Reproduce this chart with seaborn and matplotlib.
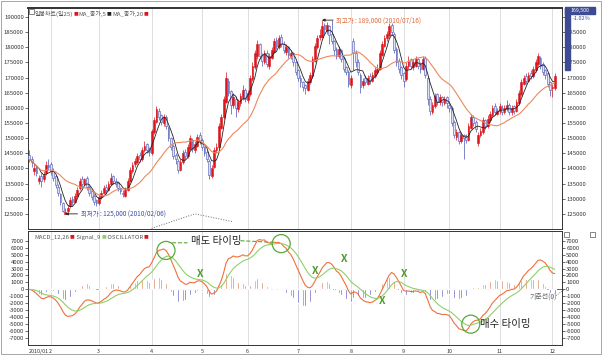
import numpy as np
import pandas as pd
import matplotlib
matplotlib.use("Agg")
import matplotlib.pyplot as plt
import seaborn as sns
from matplotlib.patches import Ellipse, Rectangle
from matplotlib.ticker import FuncFormatter

# daily prices, thousands of won (2010/01 ~ 2010/12)
close_k = [143, 142, 140, 138.5, 137, 136, 138, 141, 140.5, 139,
           137, 134.5, 132, 129, 126, 125.5, 127, 129.5, 129, 131,
           133, 136, 135, 136.5, 134, 132, 130.5, 129, 128.5, 130.5,
           132, 133.5, 133, 135, 137, 136, 135, 133.5, 132.5, 131.5,
           133, 136, 139.5, 141, 142.5, 144, 143, 146, 147.5, 146,
           145.5, 152.5, 156, 159.5, 157, 155.5, 157, 154, 150, 147,
           144, 143, 139.5, 142, 145, 144, 147, 150, 146.5, 148,
           150.5, 149, 147, 145, 143, 138, 140, 146, 147, 154,
           157, 163, 170, 165, 161, 163.5, 160, 162, 164, 166,
           163, 165, 170, 174, 178, 181, 177, 175.5, 178, 174.5,
           177, 179, 182, 180.5, 183, 181, 179, 180, 177.5, 178,
           175, 172, 170, 168.5, 167, 166.5, 169, 171, 176, 180.5,
           183, 184, 187, 186, 187.5, 184, 182, 179, 177, 179.5,
           176, 173, 172, 168, 170, 178, 175, 172, 167, 169,
           168.5, 170, 169, 171, 172.5, 173, 178, 181, 183, 184.5,
           187, 185, 179, 175, 173, 171, 169, 174, 175.5, 174,
           175, 176, 174, 173, 176, 171, 163, 159, 161, 164,
           162, 163.5, 162, 163, 161.5, 160, 155, 151, 152, 149,
           151, 150, 149.5, 154, 157, 155, 153, 151, 152.5, 156,
           154, 156.5, 158, 160, 158.5, 159, 160.5, 158.5, 160, 161,
           158.5, 160, 159, 162, 165, 168.5, 170, 169, 171, 170.5,
           173, 175, 177, 174, 172, 171, 168, 166, 167, 170.5]
open_k = [144.5, 143, 139, 140.5, 136, 137.5, 136.5, 138.5, 141, 141.5,
          139, 137.5, 134, 131.5, 128.5, 125, 126, 127.5, 130, 129,
          131, 133.5, 136.5, 135, 137, 134, 132.5, 131, 129.5, 128.5,
          130.5, 132, 134, 133, 135, 137.5, 136, 135.5, 133.5, 132,
          131, 133, 136, 139, 141.5, 142, 144.5, 143, 146, 148,
          146.5, 145, 152, 155.5, 159, 157.5, 155, 157, 153.5, 150,
          147.5, 144.5, 142.5, 139.5, 142, 145.5, 144, 146.5, 149.5, 146,
          147.5, 151, 149.5, 147, 145.5, 142.5, 137.5, 140.5, 146, 147,
          153.5, 157, 162, 169, 165.5, 161, 163, 159.5, 161.5, 163.5,
          166, 162.5, 164.5, 169.5, 173.5, 177, 181, 177.5, 175, 178,
          174, 176.5, 178.5, 182.5, 180, 183.5, 181, 178.5, 180, 177,
          178, 175, 172.5, 170, 168.5, 167.5, 166, 168.5, 170.5, 175.5,
          180, 183.5, 183.5, 187.5, 185.5, 187, 184.5, 182, 179.5, 177,
          179, 176.5, 173.5, 172, 167.5, 182, 178, 175, 171, 167.5,
          170, 168, 170.5, 169, 170.5, 172, 173, 177.5, 180.5, 183,
          184, 187.5, 184.5, 179.5, 175.5, 173.5, 171.5, 169.5, 174, 176,
          173.5, 174, 176, 174.5, 173, 176.5, 170, 163, 158.5, 160.5,
          164.5, 162, 163.5, 161.5, 163.5, 161, 160, 155.5, 150.5, 152,
          149, 151, 150.5, 149.5, 153.5, 157, 155.5, 148.5, 151, 152,
          156, 154, 156, 157.5, 160.5, 158, 159, 160, 158.5, 159.5,
          161, 158.5, 160.5, 159, 161.5, 164.5, 168, 170.5, 169, 171.5,
          170.5, 172.5, 174.5, 176.5, 174.5, 172.5, 171.5, 168.5, 166.5, 166.5]
high_k = [146, 144, 141.5, 141, 138, 138.5, 139, 142.5, 143, 142,
          140, 138, 135, 132, 129, 127, 128, 130.5, 131, 132,
          134, 137, 137.5, 137, 137.5, 134.5, 133, 131.5, 130, 131.5,
          133, 134.5, 135, 136, 138.5, 138, 137, 136, 134, 133,
          134, 137, 140.5, 142, 143.5, 145, 145.5, 147, 149, 148.5,
          147, 153, 157, 160.5, 160, 158, 158, 157.5, 154, 150.5,
          148, 145, 143, 143, 146, 146.5, 148, 151, 150, 149,
          151.5, 152, 150, 147.5, 146, 143, 141, 147, 148.5, 155,
          158, 164, 172, 170, 166, 165, 164, 163, 165, 167.5,
          166.5, 166, 171, 175, 179, 182.5, 181.5, 178, 179, 179,
          178, 180, 183, 183.5, 184, 184.5, 182, 181, 180.5, 179,
          178.5, 175.5, 173, 171, 169, 168, 170, 172, 177, 181.5,
          184, 186, 189, 188, 188.5, 187.5, 189, 182.5, 180, 180.5,
          179.5, 177, 174, 172.5, 171, 183, 179, 176, 171.5, 170,
          171, 171, 171.5, 172, 173.5, 174.5, 179, 182, 184, 185.5,
          188, 188, 185, 180, 176.5, 174, 172, 175, 177, 176.5,
          176, 177, 176.5, 175, 177, 177, 170.5, 164, 162, 165,
          165, 164.5, 164, 164, 164, 162, 160.5, 156, 153, 152.5,
          152, 151.5, 151.5, 155, 158, 157.5, 156, 152, 153.5, 157,
          156.5, 157.5, 159, 161, 161.5, 160, 161.5, 161, 161, 162.5,
          161.5, 161, 161, 163, 166, 169.5, 171, 171.5, 172, 172.5,
          174, 176, 178, 177, 175, 173, 172, 169, 168, 171.5]
low_k = [142, 140.5, 138, 137.5, 135, 134, 135.5, 138, 139.5, 138,
         136, 133.5, 131, 128, 125.5, 125, 125.5, 127, 128, 128.5,
         130.5, 133, 134, 134.5, 133, 131, 129.5, 128, 127.5, 128,
         130, 131.5, 132, 132.5, 134.5, 135, 134, 132.5, 131.5, 130.5,
         130.5, 132.5, 135.5, 138.5, 140.5, 141.5, 142, 142.5, 145.5, 145,
         144, 144.5, 151.5, 155, 156, 154.5, 154, 153, 149, 146,
         143, 141.5, 138.5, 139, 141.5, 143, 143.5, 146, 145.5, 145,
         147, 148, 146, 144, 142, 136.5, 137, 140, 145, 146.5,
         153, 156.5, 161.5, 164, 158, 160, 157, 158.5, 160.5, 162.5,
         162, 161.5, 164, 169, 173, 176, 176, 174, 174.5, 173.5,
         173, 176, 178, 179.5, 179.5, 180, 178, 177.5, 176.5, 176,
         174, 171, 169, 167, 165.5, 164.5, 165.5, 168, 170, 175,
         179.5, 182.5, 183, 184.5, 184.5, 181, 181, 177.5, 176, 176.5,
         175, 172, 171, 167, 166.5, 172.5, 173.5, 171, 165, 166.5,
         167.5, 167.5, 168, 168.5, 170, 171.5, 172.5, 177, 180, 182,
         183.5, 184, 178, 174, 171.5, 169.5, 167, 169, 173, 173,
         172.5, 173.5, 173, 171.5, 172.5, 170, 161, 157.5, 158, 160,
         161, 161, 160.5, 161, 160, 158.5, 154, 150, 149.5, 148,
         148.5, 143, 148.5, 149, 153, 154, 152, 147.5, 150.5, 151.5,
         153, 153.5, 155.5, 157, 157.5, 157.5, 158, 157.5, 158, 159,
         157.5, 157.5, 158, 158.5, 161, 164, 167.5, 168, 168.5, 169.5,
         170, 172, 174, 173, 171, 169.5, 167, 164, 163.5, 166]

month_pos = [0, 9, 29, 51, 72, 91, 112, 134, 156, 175, 196, 218]
month_lbl = ["2010/01", "2", "3", "4", "5", "6", "7", "8", "9", "10", "11", "12"]

fake_x = [71, 119, 131, 147, 156]          # false crossings marked with X
fake_y = [2200, 2700, 4400, -1700, 2200]

df = pd.DataFrame({"i": np.arange(len(close_k)),
                   "open": np.array(open_k) * 1000, "high": np.array(high_k) * 1000,
                   "low": np.array(low_k) * 1000, "close": np.array(close_k) * 1000})
df["ma5"] = df["close"].rolling(5, min_periods=1).mean()
df["ma20"] = df["close"].rolling(20, min_periods=1).mean()
ema12 = df["close"].ewm(span=12, adjust=False).mean()
ema26 = df["close"].ewm(span=26, adjust=False).mean()
df["macd"] = ema12 - ema26
df["signal"] = df["macd"].ewm(span=9, adjust=False).mean()
df["osc"] = df["macd"] - df["signal"]

sns.set_style("white")
plt.rcParams["font.family"] = ["Noto Sans CJK KR", "DejaVu Sans"]

W, H = 602, 355
fig = plt.figure(figsize=(W / 100, H / 100), dpi=100)
ax1 = fig.add_axes([28 / W, 1 - 229 / H, 534 / W, 221 / H])
ax2 = fig.add_axes([28 / W, 1 - 345 / H, 534 / W, 114 / H])

# candles
up = df["close"] >= df["open"]
edge = np.where(up, "#d8141c", "#4a55b5")
face = np.where(up, "#e0141c", "#dde2f6")
ax1.vlines(df["i"], df["low"], df["high"], colors=edge, lw=0.5, zorder=2)
body = (df["close"] - df["open"]).abs().clip(lower=250)
ax1.bar(df["i"], body, bottom=df[["open", "close"]].min(axis=1), width=0.75,
        color=face, edgecolor=edge, linewidth=0.4, zorder=3)
sns.lineplot(data=df, x="i", y="ma5", ax=ax1, color="#222222", lw=0.6, zorder=4)
sns.lineplot(data=df, x="i", y="ma20", ax=ax1, color="#f0875a", lw=0.8, zorder=4)

# MACD panel
ax2.bar(df["i"], df["osc"], width=0.6,
        color=np.where(df["osc"] >= 0, "#dd7a52", "#5558bf"), zorder=2)
sns.lineplot(data=df, x="i", y="macd", ax=ax2, color="#f0703c", lw=0.8, zorder=3)
sns.lineplot(data=df, x="i", y="signal", ax=ax2, color="#8fd06a", lw=0.8, zorder=3)
ax2.axhline(0, color="#444444", lw=0.6, zorder=1)

for ax in (ax1, ax2):
    ax.set_xlim(-0.5, 222)
    ax.set_xlabel("")
    ax.set_ylabel("")
    for p in month_pos[1:]:
        ax.axvline(p, color="#d8d8d8", lw=0.6, zorder=0)
    ax.tick_params(axis="y", which="both", left=True, right=True, labelleft=True, labelright=True,
                   labelsize=4.3, length=2, width=0.5, pad=1, colors="#333333")
    for s in ax.spines.values():
        s.set_color("#333333")
        s.set_linewidth(0.7)
    ax.yaxis.set_major_formatter(FuncFormatter(lambda v, p: f"{int(round(v))}"))

ax1.set_ylim(120000, 193000)
ax1.set_yticks(np.arange(125000, 190001, 5000))
ax1.set_xticks([])
ax1.spines["top"].set_linewidth(1.4)
# the right scale's top label sits under the current-price box
ax1.yaxis.get_major_ticks()[-1].label2.set_visible(False)

ax2.set_ylim(-8000, 8400)
ax2.set_yticks(np.arange(-7000, 7001, 1000))
ax2.set_xticks(month_pos)
ax2.set_xticklabels(month_lbl)
ax2.tick_params(axis="x", labelsize=3.9, length=2, width=0.5, pad=1, colors="#333333")
ax2.get_xticklabels()[0].set_ha("left")


def header(ax, parts, y):
    prev = ax.text(0.012, y, parts[0][0], transform=ax.transAxes, fontsize=4.3,
                   color=parts[0][1], va="top")
    for s, c in parts[1:]:
        fs = 3.4 if s.strip() == "■" else 4.3
        prev = ax.annotate(s, xy=(1, 0), xycoords=prev, fontsize=fs, color=c, va="bottom")


header(ax1, [("일봉차트(일25)", "#555555"), (" ■", "#e0141c"), ("MA_종가,5", "#555555"),
             (" ■", "#222222"), ("MA_종가,20", "#555555"), (" ■", "#e0141c")], 0.985)
header(ax2, [("MACD_12,26", "#555555"), (" ■", "#e0141c"), (" Signal_9", "#555555"),
             (" ■", "#8fd06a"), (" OSCILLATOR", "#555555"), (" ■", "#e0141c")], 0.965)

# small panel icons
for px, py in [(29, 9), (564, 232), (590, 232)]:
    fig.add_artist(Rectangle((px / W, 1 - (py + 5) / H), 5 / W, 5 / H, transform=fig.transFigure,
                             fill=False, ec="#555555", lw=0.5, zorder=6))

# low / high marks
lo = df["low"].idxmin()
hi = df["high"].idxmax()
ax1.annotate("최저가 : 125,000 (2010/02/06)", xy=(lo, df["low"][lo]), xytext=(lo + 6.5, df["low"][lo]),
             fontsize=4.6, color="#3c4fa8", va="center",
             arrowprops=dict(arrowstyle="-|>", color="#222222", lw=0.6, mutation_scale=4, shrinkA=0, shrinkB=0))
ax1.annotate("최고가 : 189,000 (2010/07/16)", xy=(hi, df["high"][hi]), xytext=(hi + 6, df["high"][hi]),
             fontsize=4.6, color="#e06a3a", va="center",
             arrowprops=dict(arrowstyle="-|>", color="#222222", lw=0.6, mutation_scale=4, shrinkA=0, shrinkB=0))
ax1.plot([51, 69, 85], [120200, 125000, 122400], ls=":", color="#666666", lw=0.7)

# timing circles
sell1, sell2, buy = 57, 105, 184
for k in (sell1, sell2, buy):
    ax2.add_patch(Ellipse((k, df["macd"][k]), 7.5, 2600, fill=False, ec="#5aa83a", lw=0.9, zorder=5))
ax2.text(67.5, 7000, "매도 타이밍", fontsize=7.5, color="#222222", va="center")
ax2.plot([sell1 + 2.5, 66], [df["macd"][sell1] + 1100, 6700], ls="--", color="#5aa83a", lw=0.8)
ax2.plot([88, sell2 - 3.8], [7000, df["macd"][sell2] + 200], ls="--", color="#5aa83a", lw=0.8)
ax2.text(buy + 4, df["macd"][buy], "매수 타이밍", fontsize=7.5, color="#222222", va="center")
for fx, fy in zip(fake_x, fake_y):
    ax2.text(fx, fy, "X", fontsize=7.5, color="#4f9a2a", fontweight="bold", ha="center", va="center")
ax2.text(208.5, -1100, "기준선(0)", fontsize=5, color="#666666", va="center")
ax2.plot([219.5, 223], [-900, 0], ls=":", color="#666666", lw=0.6, clip_on=False)

# current price marker on the right scale
fig.add_artist(Rectangle((565 / W, 1 - 70 / H), 5 / W, 62 / H, transform=fig.transFigure,
                         color="#3d4a94", zorder=5))
fig.add_artist(Rectangle((565 / W, 1 - 14 / H), 30 / W, 7 / H, transform=fig.transFigure,
                         color="#3d4a94", zorder=5))
fig.text(580 / W, 1 - 10.5 / H, "169,500", fontsize=3.8, color="white", ha="center", va="center", zorder=6)
fig.text(582 / W, 1 - 19 / H, "-1.02%", fontsize=4, color="#3d4a94", ha="center", va="center", zorder=6)
fig.add_artist(Rectangle((0.002, 0.002), 0.996, 0.995, transform=fig.transFigure,
                         fill=False, ec="#999999", lw=0.6))

fig.savefig("out.png", dpi=100)
